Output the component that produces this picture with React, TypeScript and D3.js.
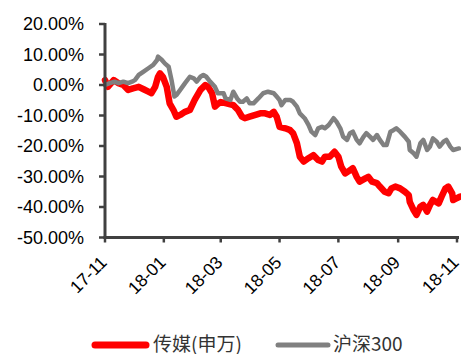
import React from "react";
import * as d3 from "d3";

const START = new Date(2017, 10, 1);
const END = new Date(2018, 10, 1);

const tickDates = [
  new Date(2017, 10, 1),
  new Date(2018, 0, 1),
  new Date(2018, 2, 1),
  new Date(2018, 4, 1),
  new Date(2018, 6, 1),
  new Date(2018, 8, 1),
  new Date(2018, 10, 1),
];
const yTicks = [20, 10, 0, -10, -20, -30, -40, -50];

// days since 2017-11-01, cumulative return (%)
const mediaDays = [0, 3, 9, 14, 19, 24, 29, 35, 40, 45, 48, 52, 55, 57, 60, 64, 67, 71, 74, 78, 83, 88, 93, 99, 104, 107, 111, 114, 117, 120, 126, 133, 138, 142, 145, 150, 156, 161, 166, 171, 175, 178, 181, 187, 192, 195, 199, 202, 206, 211, 216, 221, 225, 228, 233, 238, 242, 245, 249, 252, 257, 261, 264, 270, 273, 277, 282, 285, 290, 294, 297, 301, 306, 311, 315, 316, 320, 323, 327, 330, 334, 337, 340, 346, 349, 353, 356, 360, 361, 365, 368];
const mediaVals = [1.6, -0.6, 1.6, 0.6, 0, -1.6, -1.1, -0.6, -1.4, -2.2, -2.7, -0.6, 2.7, 3.8, 2.7, -0.6, -6.0, -8.2, -10.4, -9.8, -8.8, -8.2, -4.9, -1.6, 0, -0.6, -2.7, -7.1, -6.2, -5.6, -6.0, -6.6, -8.2, -10.4, -10.9, -10.4, -9.8, -9.3, -9.3, -9.8, -8.8, -10.4, -13.7, -14.2, -14.8, -15.8, -19.1, -23.5, -25.1, -24.0, -23.0, -24.6, -25.1, -23.5, -23.5, -21.9, -23.5, -26.8, -29.0, -28.4, -27.3, -30.1, -31.7, -30.6, -30.1, -31.7, -32.2, -33.3, -35.0, -35.5, -33.9, -33.3, -33.9, -35.0, -36.1, -38.3, -41.0, -42.6, -39.9, -39.3, -41.5, -39.3, -37.7, -38.8, -36.6, -33.9, -33.3, -35.5, -37.7, -37.1, -36.6];

const hs300Days = [0, 5, 10, 14, 19, 24, 28, 31, 35, 40, 45, 50, 54, 55, 59, 62, 66, 69, 72, 74, 78, 83, 88, 92, 95, 99, 102, 105, 109, 114, 117, 123, 125, 130, 133, 137, 140, 143, 147, 150, 154, 159, 164, 169, 175, 178, 181, 183, 187, 192, 195, 199, 202, 207, 211, 214, 218, 221, 225, 228, 232, 237, 240, 244, 247, 251, 254, 257, 261, 264, 268, 271, 275, 278, 282, 285, 289, 292, 296, 299, 302, 306, 311, 315, 316, 320, 323, 327, 330, 334, 337, 340, 344, 347, 351, 354, 358, 361, 367];
const hs300Vals = [0, 0.6, 1.1, 0.6, 1.1, 0.6, 1.1, 1.6, 3.3, 4.4, 5.5, 6.6, 8.2, 9.3, 8.2, 7.1, 6.0, 1.6, -3.8, -3.3, -1.6, 0.6, 2.7, 2.2, 1.1, 2.7, 3.3, 2.7, 1.1, -0.6, -2.7, -2.7, -4.4, -4.9, -2.2, -4.4, -5.5, -5.5, -4.4, -6.0, -6.0, -4.4, -2.7, -2.2, -2.7, -3.8, -4.9, -6.6, -4.9, -4.9, -5.5, -7.1, -9.3, -10.9, -13.1, -15.3, -16.4, -14.2, -13.7, -14.2, -13.1, -10.9, -12.0, -14.2, -17.0, -18.0, -15.8, -15.3, -18.0, -19.1, -17.0, -15.8, -17.0, -18.0, -16.4, -18.0, -19.7, -19.7, -15.3, -14.8, -14.2, -15.3, -17.0, -18.6, -21.3, -22.4, -23.5, -19.1, -18.0, -21.3, -20.2, -17.5, -18.6, -20.2, -18.6, -18.0, -20.2, -21.3, -20.8];

const seriesNames = ["传媒(申万)", "沪深300"];
const seriesColors = ["#ff0000", "#808080"];

const W = 461;
const H = 354;
const AX = "#404040";
const LATIN = "'Liberation Sans', Arial, sans-serif";
const CJK = "'Noto Sans CJK SC', 'Liberation Sans', sans-serif";

export default function App() {
  const x = d3.scaleTime().domain([START, END]).range([105, 457]);
  const y = d3.scaleLinear().domain([-50, 20]).range([237.5, 24]);
  const toPts = (days: number[], vals: number[]) =>
    days.map((d, i) => ({ date: d3.timeDay.offset(START, d), v: vals[i] }));
  const line = d3
    .line<{ date: Date; v: number }>()
    .x((p) => x(p.date))
    .y((p) => y(p.v))
    .curve(d3.curveLinear);
  const media = toPts(mediaDays, mediaVals);
  const hs = toPts(hs300Days, hs300Vals);
  const fmt = d3.timeFormat("%y-%m");
  const y0 = y(-50);

  return (
    <svg
      width={W}
      height={H}
      style={{ position: "absolute", left: 0, top: 0, background: "#fff" }}
    >
      <path
        d={line(media) || ""}
        fill="none"
        stroke={seriesColors[0]}
        strokeWidth={6.5}
        strokeLinejoin="round"
        strokeLinecap="round"
      />
      <path
        d={line(hs) || ""}
        fill="none"
        stroke={seriesColors[1]}
        strokeWidth={4.5}
        strokeLinejoin="round"
        strokeLinecap="round"
      />
      {/* y axis */}
      <line x1={105} x2={105} y1={y(20) - 1} y2={y0 + 1.5} stroke={AX} strokeWidth={3} />
      {yTicks.map((t) => (
        <g key={t}>
          <line x1={99} x2={105} y1={y(t)} y2={y(t)} stroke={AX} strokeWidth={2.5} />
          <text
            x={84}
            y={y(t)}
            dy="0.36em"
            textAnchor="end"
            fontFamily={LATIN}
            fontSize={18}
            fill="#000"
          >
            {t.toFixed(2) + "%"}
          </text>
        </g>
      ))}
      {/* x axis */}
      <line x1={103.5} x2={459} y1={y0} y2={y0} stroke={AX} strokeWidth={3} />
      {tickDates.map((d, i) => (
        <g key={i}>
          <line x1={x(d)} x2={x(d)} y1={y0} y2={y0 + 5} stroke={AX} strokeWidth={2.5} />
          <text
            transform={`translate(${x(d) + 3},${y0 + 26}) rotate(-45)`}
            textAnchor="end"
            fontFamily={LATIN}
            fontSize={17.5}
            fill="#000"
          >
            {fmt(d)}
          </text>
        </g>
      ))}
      {/* legend */}
      <line x1={95} x2={146} y1={345} y2={345} stroke={seriesColors[0]} strokeWidth={7} strokeLinecap="round" />
      <text x={153} y={344} dy="0.35em" fontFamily={CJK} fontSize={19} fill="#333">
        {seriesNames[0]}
      </text>
      <line x1={278} x2={328} y1={345} y2={345} stroke={seriesColors[1]} strokeWidth={5} strokeLinecap="round" />
      <text x={333} y={344} dy="0.35em" fontFamily={CJK} fontSize={19} fill="#333">
        {seriesNames[1]}
      </text>
    </svg>
  );
}
